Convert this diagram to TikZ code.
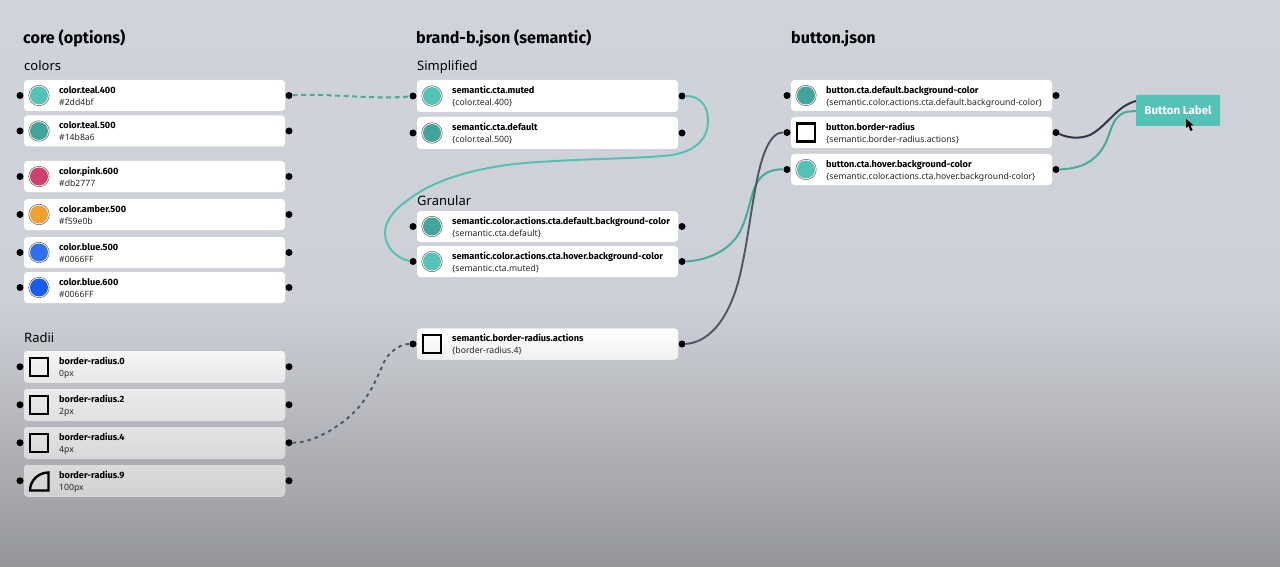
\documentclass[tikz,border=0pt]{standalone}
\usepackage{fontspec}
\setmainfont{Noto Sans}
\newfontfamily\boldf{Fira Sans}
\definecolor{bgA}{HTML}{D0D3DA}
\definecolor{bgB}{HTML}{CDD0D7}
\definecolor{bgC}{HTML}{BABCC1}
\definecolor{bgD}{HTML}{A8AAAE}
\definecolor{bgE}{HTML}{94969A}
\definecolor{tealA}{HTML}{55C2B8}
\definecolor{tealB}{HTML}{43A49C}
\definecolor{pinkC}{HTML}{CF4070}
\definecolor{amberC}{HTML}{F0A02C}
\definecolor{blueA}{HTML}{3070F0}
\definecolor{blueB}{HTML}{1A5CEC}
\definecolor{slateL}{HTML}{4E5566}
\definecolor{darkL}{HTML}{30364A}
\definecolor{tealL}{HTML}{55C0B3}
\definecolor{tealM}{HTML}{47AB9C}
\pgfdeclareverticalshading{bgsh}{100bp}{color(0bp)=(bgE); color(25bp)=(bgE); color(32.7bp)=(bgD); color(39.7bp)=(bgC); color(48.5bp)=(bgB); color(75bp)=(bgA); color(100bp)=(bgA)}
\tikzset{
  cardbox/.style={rectangle,rounded corners=3.5pt,inner sep=0pt,minimum width=261pt,fill=white},
  dotn/.style={circle,fill=black,inner sep=0pt,minimum size=7pt},
  ctitle/.style={anchor=base west,inner sep=0pt,font=\boldf\fontsize{9.17pt}{10pt}\selectfont\bfseries},
  csub/.style={anchor=base west,inner sep=0pt,font=\fontsize{8.65pt}{10pt}\selectfont,text=black!85},
  h1/.style={anchor=base west,inner sep=0pt,font=\boldf\fontsize{16.1pt}{17pt}\selectfont\bfseries},
  h2/.style={anchor=base west,inner sep=0pt,font=\fontsize{13pt}{15pt}\selectfont},
  ring/.style={circle,inner sep=0pt,minimum size=20.5pt,draw=black!55,line width=.6pt,fill=white},
  sq/.style={rectangle,inner sep=0pt,minimum size=18pt,draw=black,line width=2.4pt},
  wire/.style={line width=2pt,tealL},
  wirem/.style={line width=2pt,tealM},
  slatew/.style={line width=1.9pt,slateL},
  darkw/.style={line width=2pt,darkL}
}
% [fill style]{id}{x}{top}{bottom}{title}{sub}
\newcommand{\cardn}[7][]{%
  \pgfmathsetmacro{\cx}{#3+130.5}\pgfmathsetmacro{\cy}{(#4+#5)/2}\pgfmathsetmacro{\ch}{#5-#4}%
  \pgfmathsetmacro{\tx}{#3+35}\pgfmathsetmacro{\ty}{\cy-2.2}\pgfmathsetmacro{\sy}{\cy+9.8}%
  \pgfmathsetmacro{\lx}{#3-4}\pgfmathsetmacro{\rx}{#3+265}\pgfmathsetmacro{\ix}{#3+15}%
  \node[cardbox,minimum height=\ch pt,#1] (#2) at (\cx,\cy) {};
  \node[dotn] (#2l) at (\lx,\cy) {};
  \node[dotn] (#2r) at (\rx,\cy) {};
  \node[ctitle] (#2t) at (\tx,\ty) {#6};
  \node[csub] (#2s) at (\tx,\sy) {#7};
  \coordinate (#2i) at (\ix,\cy);
}
\newcommand{\colr}[2]{\node[ring] at (#1i) {}; \node[circle,inner sep=0pt,minimum size=18pt,fill=#2] (#1c) at (#1i) {};}
\newcommand{\sqr}[2][none]{\node[sq,fill=#1] (#2q) at (#2i) {};}
\begin{document}
\begin{tikzpicture}[x=1pt,y=-1pt]
\useasboundingbox (0,0) rectangle (1280,567);
\shade[shading=bgsh] (0,0) rectangle (1280,567);
% headings
\node[h1] (hA) at (23,43.5) {core (options)};
\node[h1] (hB) at (416,43.5) {brand-b.json (semantic)};
\node[h1] (hC) at (791,43.5) {button.json};
\node[h2] (sA) at (24,71) {colors};
\node[h2] (sB) at (24,342) {Radii};
\node[h2] (sC) at (417,70.5) {Simplified};
\node[h2] (sD) at (417,205) {Granular};
% core
\cardn{ctA}{24}{80}{111}{color.teal.400}{\#2dd4bf}\colr{ctA}{tealA}
\cardn{ctB}{24}{115.5}{146.5}{color.teal.500}{\#14b8a6}\colr{ctB}{tealB}
\cardn{ctC}{24}{161}{192}{color.pink.600}{\#db2777}\colr{ctC}{pinkC}
\cardn{ctD}{24}{199}{230}{color.amber.500}{\#f59e0b}\colr{ctD}{amberC}
\cardn{ctE}{24}{237}{268}{color.blue.500}{\#0066FF}\colr{ctE}{blueA}
\cardn{ctF}{24}{272}{303}{color.blue.600}{\#0066FF}\colr{ctF}{blueB}
\cardn[top color=black!4,bottom color=black!9]{raA}{24}{351}{382.5}{border-radius.0}{0px}\sqr{raA}
\cardn[top color=black!8,bottom color=black!12]{raB}{24}{389}{420.5}{border-radius.2}{2px}\sqr{raB}
\cardn[top color=black!11,bottom color=black!15]{raC}{24}{427}{458.5}{border-radius.4}{4px}\sqr{raC}
\cardn[top color=black!14,bottom color=black!18]{raD}{24}{465}{496.5}{border-radius.9}{100px}
\draw[line width=2.4pt,line join=miter] (30,490.5) .. controls (30,481) and (38,472.5) .. (48.5,472.5) -- (48.5,490.5) -- (28.8,490.5);
% brand
\cardn{smA}{417}{80}{112}{semantic.cta.muted}{\{color.teal.400\}}\colr{smA}{tealA}
\cardn{smB}{417}{117}{149}{semantic.cta.default}{\{color.teal.500\}}\colr{smB}{tealB}
\cardn{grA}{417}{211}{242}{semantic.color.actions.cta.default.background-color}{\{semantic.cta.default\}}\colr{grA}{tealB}
\cardn{grB}{417}{246}{277}{semantic.color.actions.cta.hover.background-color}{\{semantic.cta.muted\}}\colr{grB}{tealA}
\cardn[top color=white,bottom color=black!6]{brA}{417}{328.5}{359.5}{semantic.border-radius.actions}{\{border-radius.4\}}\sqr{brA}
% button
\cardn{btA}{791}{80}{111}{button.cta.default.background-color}{\{semantic.color.actions.cta.default.background-color\}}\colr{btA}{tealB}
\cardn{btB}{791}{117}{148}{button.border-radius}{\{semantic.border-radius.actions\}}\sqr{btB}
\cardn{btC}{791}{154}{185}{button.cta.hover.background-color}{\{semantic.color.actions.cta.hover.background-color\}}\colr{btC}{tealA}
% button preview
\node[rectangle,rounded corners=1pt,fill=tealA,minimum width=84pt,minimum height=31pt,inner sep=0pt,text=white,font=\boldf\fontsize{11.5pt}{12pt}\selectfont\bfseries] (prev) at (1178,110.5) {Button Label};
\coordinate (prevA) at (1136,101);
\coordinate (prevB) at (1136,111);
\fill[black] (1186,119) -- (1186,128) -- (1188.4,126) -- (1190.4,131) -- (1192.6,130) -- (1190.6,125.4) -- (1193.6,125.4) -- cycle;
% connectors
\draw[wirem,dash pattern=on 5pt off 3.5pt] (ctAr) .. controls (330,93) and (375,100) .. (smAl);
\draw[wire] (smAr) .. controls (702,96) and (708,108) .. (708,120)
   .. controls (708,140) and (695,151) .. (672,155)
   .. controls (640,159) and (590,158) .. (525,163)
   .. controls (480,167) and (440,178) .. (415,195)
   .. controls (395,208) and (385,220) .. (385,233)
   .. controls (385,248) and (398,259) .. (grBl);
\draw[wirem] (grBr) .. controls (700,261) and (725,255) .. (738,235)
   .. controls (746,222) and (749,205) .. (753,192)
   .. controls (758,177) and (766,169) .. (btCl);
\draw[slatew] (brAr) .. controls (705,343) and (728,325) .. (740,275)
   .. controls (748,240) and (750,215) .. (757,180)
   .. controls (762,155) and (770,132) .. (btBl);
\draw[slatew,dash pattern=on 3.5pt off 4pt] (raCr) .. controls (312,443) and (340,428) .. (358,408)
   .. controls (372,392) and (378,375) .. (385,360)
   .. controls (392,349) and (402,344) .. (brAl);
\draw[darkw] (btBr) .. controls (1066,137) and (1078,140) .. (1090,135)
   .. controls (1102,129) and (1112,115) .. (1123,107)
   .. controls (1128,104) and (1132,102) .. (prevA);
\draw[wirem] (btCr) .. controls (1075,169) and (1090,165) .. (1100,152)
   .. controls (1110,140) and (1110,122) .. (1120,115)
   .. controls (1125,111) and (1130,111.5) .. (prevB);
\end{tikzpicture}
\end{document}
